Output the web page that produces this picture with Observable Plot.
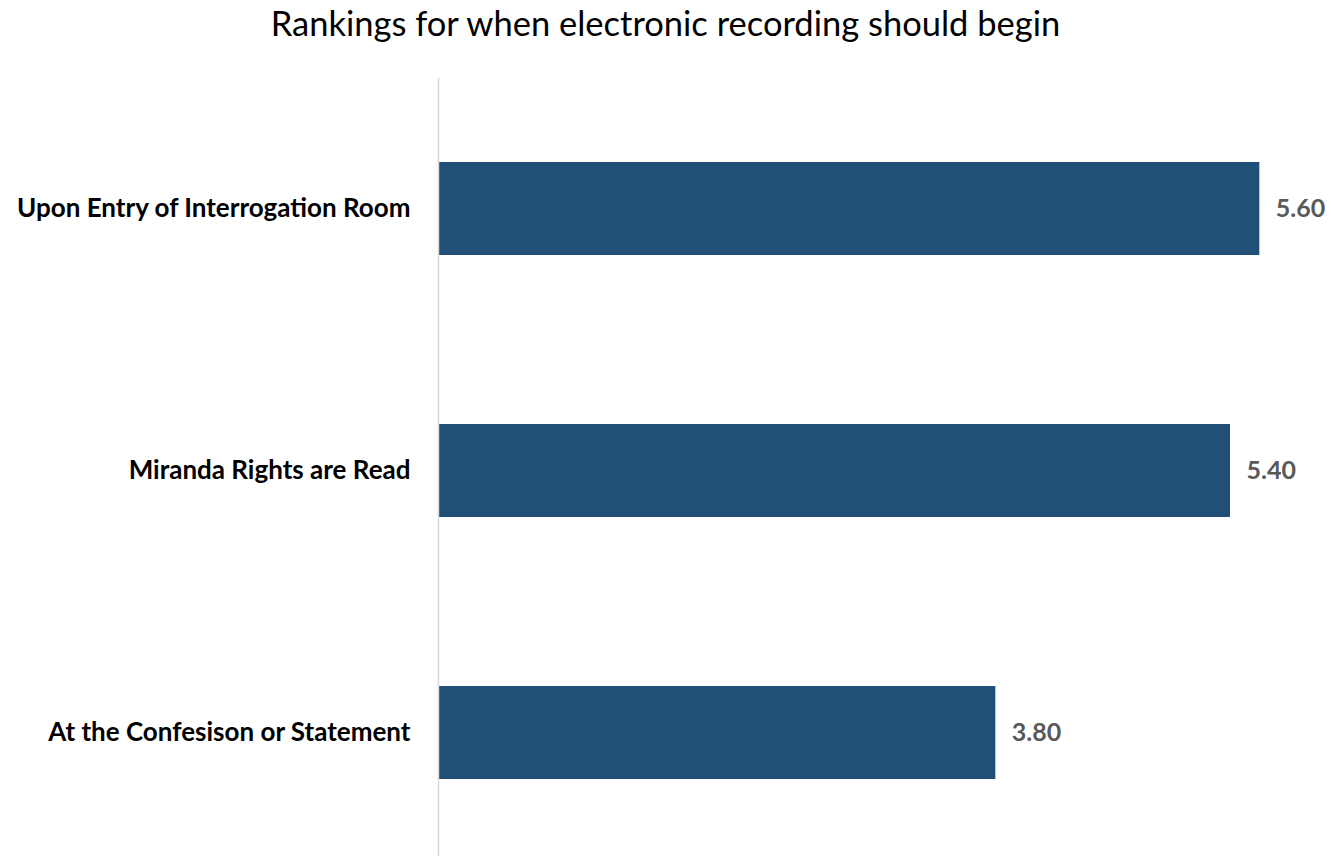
<!DOCTYPE html>
<html>
<head>
<meta charset="utf-8">
<script src="https://cdn.jsdelivr.net/npm/d3@7"></script>
<script src="https://cdn.jsdelivr.net/npm/@observablehq/plot@0.6"></script>
<style>
  html, body { margin: 0; padding: 0; background: #fff; }
  #title { height: 78px; width: 1331px; text-align: center; font-family: Lato, sans-serif; font-size: 34.5px; color: #000; line-height: 46px; }
  #chart svg { display: block; }
</style>
</head>
<body>
<div id="title">Rankings for when electronic recording should begin</div>
<div id="chart"></div>
<script>
const categories = ["Upon Entry of Interrogation Room", "Miranda Rights are Read", "At the Confesison or Statement"];
const values = [5.60, 5.40, 3.80];
const data = categories.map((c, i) => ({category: c, value: values[i]}));

const plot = Plot.plot({
  width: 1331,
  height: 778,
  marginLeft: 438,
  marginRight: 13,
  marginTop: 0,
  marginBottom: 0,
  style: {fontFamily: "Lato, sans-serif"},
  x: {domain: [0, 6], axis: null},
  y: {domain: categories, paddingInner: 0.645, paddingOuter: 0.307, align: 0.52, axis: null},
  marks: [
    Plot.barX(data, {x: "value", y: "category", fill: "#214f78"}),
    Plot.ruleX([0], {stroke: "#d9d9d9", strokeWidth: 1.5}),
    Plot.text(data, {x: 0, y: "category", text: "category", textAnchor: "end", dx: -28, fontSize: 26, fontWeight: "bold", fill: "#000"}),
    Plot.text(data, {x: "value", y: "category", text: d => d.value.toFixed(2), textAnchor: "start", dx: 16, fontSize: 25, fontWeight: "bold", fill: "#595959"})
  ]
});
document.getElementById("chart").appendChild(plot);
</script>
</body>
</html>
